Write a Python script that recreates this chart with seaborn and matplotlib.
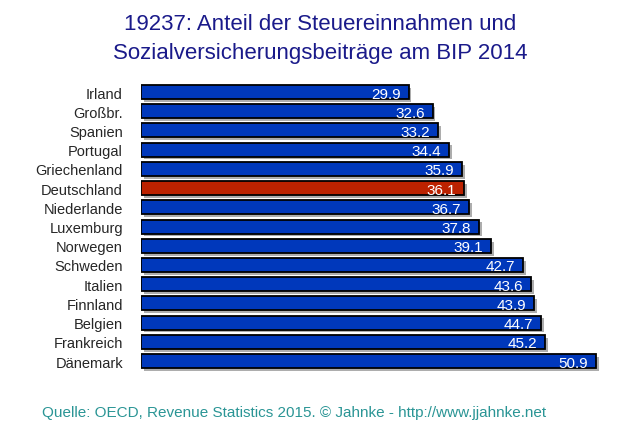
import pandas as pd
import numpy as np
import matplotlib.pyplot as plt
import matplotlib.patheffects as pe
import seaborn as sns

# Daten
laender = ["Irland", "Großbr.", "Spanien", "Portugal", "Griechenland", "Deutschland",
           "Niederlande", "Luxemburg", "Norwegen", "Schweden", "Italien", "Finnland",
           "Belgien", "Frankreich", "Dänemark"]
werte = [29.9, 32.6, 33.2, 34.4, 35.9, 36.1, 36.7, 37.8, 39.1, 42.7, 43.6, 43.9, 44.7, 45.2, 50.9]

data = pd.DataFrame({"land": laender, "wert": werte})
farben = ["#bb2200" if l == "Deutschland" else "#0038bb" for l in laender]

sns.set_style("white")
plt.rcParams["font.family"] = ["Liberation Sans", "DejaVu Sans"]

fig = plt.figure(figsize=(6.4, 4.35), dpi=100)
ax = fig.add_axes([0.2203, 0.1457, 0.741, 0.6625])

sns.barplot(x="wert", y="land", hue="land", data=data, palette=farben, legend=False,
            orient="h", width=0.73, edgecolor="black", linewidth=1.3, ax=ax, saturation=1)

# Schatten
for p in ax.patches:
    p.set_path_effects([pe.SimplePatchShadow(offset=(2, -2), shadow_rgbFace="#999999", alpha=0.8),
                        pe.Normal()])

# Werte in den Balken
for i, v in enumerate(werte):
    ax.text(v - 0.9, i + 0.08, f"{v:.1f}", ha="right", va="center", color="white", fontsize=11)

ax.set_xlim(0, 53)
ax.set_ylim(14.5, -0.5)
ax.set_xlabel("")
ax.set_ylabel("")
ax.set_xticks([])
ax.tick_params(axis="y", length=0, pad=13, labelsize=10.5)
for s in ax.spines.values():
    s.set_visible(False)

fig.text(0.5, 0.943, "19237: Anteil der Steuereinnahmen und", ha="center", va="center",
         fontsize=16, color="#1a1a8a")
fig.text(0.5, 0.876, "Sozialversicherungsbeiträge am BIP 2014", ha="center", va="center",
         fontsize=16, color="#1a1a8a")
fig.text(0.065, 0.05, "Quelle: OECD, Revenue Statistics 2015. © Jahnke - http://www.jjahnke.net",
         ha="left", va="center", fontsize=11, color="#2a9595")

plt.savefig("out.png", dpi=100)
